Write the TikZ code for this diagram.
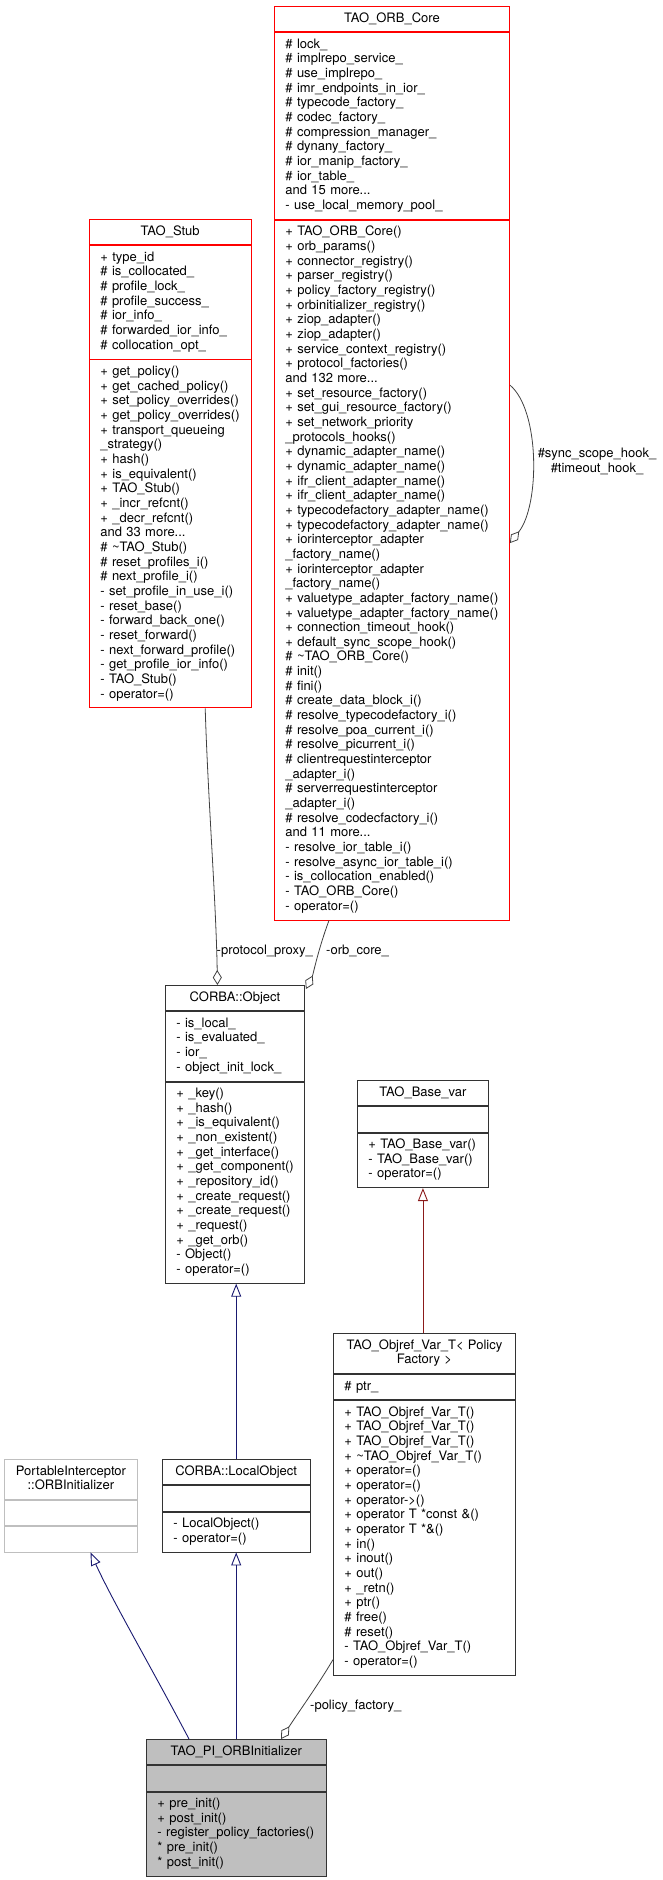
\documentclass[tikz,border=0pt]{standalone}
\usepackage{fontspec}
\setmainfont{TeX Gyre Heros}
\usetikzlibrary{arrows.meta}
\definecolor{edgeblue}{HTML}{191970}
\definecolor{edgered}{HTML}{8B1A1A}
\definecolor{edgegray}{HTML}{404040}
\definecolor{boxgray}{HTML}{BFBFBF}
\newcommand\dxfont{\fontsize{13}{14.66}\selectfont}
\newcommand\rows[1]{\begin{tabular}{@{\hspace{11pt}}l@{}}#1\end{tabular}}
\newcommand\head[1]{\begin{tabular}{@{}c@{}}#1\end{tabular}}
\begin{document}
\catcode`\_=12
\begin{tikzpicture}[x=1pt, y=-1pt,
    sec/.style={draw=black!80, line width=0.9pt, anchor=north west, inner sep=0pt,
        text width=#1pt, minimum width=#1pt, align=left, font=\dxfont},
    ttl/.style={align=center},
    nl/.style={minimum height=14.66*#1+10.7},
    inh/.style={draw=edgeblue, line width=0.9pt, -{Triangle[open, length=13pt, width=10pt]}},
    priv/.style={draw=edgered, line width=0.9pt, -{Triangle[open, length=13pt, width=10pt]}},
    agg/.style={draw=edgegray, line width=0.8pt, -{Diamond[open, length=15pt, width=9pt]}},
    lbl/.style={font=\dxfont, inner sep=0pt}]
    \useasboundingbox (0,0) rectangle (663,1880);

    \node[sec=235, nl=1, ttl, draw=red] (core-t) at (274,6) {\head{TAO_ORB_Core}};
    \node[sec=235, nl=12, draw=red] (core-a) at (core-t.south west) {\rows{%
        \# lock_\\ \# implrepo_service_\\ \# use_implrepo_\\ \# imr_endpoints_in_ior_\\
        \# typecode_factory_\\ \# codec_factory_\\ \# compression_manager_\\
        \# dynany_factory_\\ \# ior_manip_factory_\\ \# ior_table_\\ and 15 more...\\
        - use_local_memory_pool_}};
    \node[sec=235, nl=47, draw=red] (core-m) at (core-a.south west) {\rows{%
        + TAO_ORB_Core()\\ + orb_params()\\ + connector_registry()\\ + parser_registry()\\
        + policy_factory_registry()\\ + orbinitializer_registry()\\ + ziop_adapter()\\
        + ziop_adapter()\\ + service_context_registry()\\ + protocol_factories()\\
        and 132 more...\\ + set_resource_factory()\\ + set_gui_resource_factory()\\
        + set_network_priority\\ _protocols_hooks()\\ + dynamic_adapter_name()\\
        + dynamic_adapter_name()\\ + ifr_client_adapter_name()\\ + ifr_client_adapter_name()\\
        + typecodefactory_adapter_name()\\ + typecodefactory_adapter_name()\\
        + iorinterceptor_adapter\\ _factory_name()\\ + iorinterceptor_adapter\\
        _factory_name()\\ + valuetype_adapter_factory_name()\\
        + valuetype_adapter_factory_name()\\ + connection_timeout_hook()\\
        + default_sync_scope_hook()\\ \# \textasciitilde TAO_ORB_Core()\\ \# init()\\ \# fini()\\
        \# create_data_block_i()\\ \# resolve_typecodefactory_i()\\ \# resolve_poa_current_i()\\
        \# resolve_picurrent_i()\\ \# clientrequestinterceptor\\ _adapter_i()\\
        \# serverrequestinterceptor\\ _adapter_i()\\ \# resolve_codecfactory_i()\\
        and 11 more...\\ - resolve_ior_table_i()\\ - resolve_async_ior_table_i()\\
        - is_collocation_enabled()\\ - TAO_ORB_Core()\\ - operator=()}};

    \node[sec=161.5, nl=1, ttl, draw=red] (stub-t) at (89,219) {\head{TAO_Stub}};
    \node[sec=161.5, nl=7, draw=red] (stub-a) at (stub-t.south west) {\rows{%
        + type_id\\ \# is_collocated_\\ \# profile_lock_\\ \# profile_success_\\
        \# ior_info_\\ \# forwarded_ior_info_\\ \# collocation_opt_}};
    \node[sec=161.5, nl=23, draw=red] (stub-m) at (stub-a.south west) {\rows{%
        + get_policy()\\ + get_cached_policy()\\ + set_policy_overrides()\\
        + get_policy_overrides()\\ + transport_queueing\\ _strategy()\\ + hash()\\
        + is_equivalent()\\ + TAO_Stub()\\ + _incr_refcnt()\\ + _decr_refcnt()\\
        and 33 more...\\ \# \textasciitilde TAO_Stub()\\ \# reset_profiles_i()\\ \# next_profile_i()\\
        - set_profile_in_use_i()\\ - reset_base()\\ - forward_back_one()\\ - reset_forward()\\
        - next_forward_profile()\\ - get_profile_ior_info()\\ - TAO_Stub()\\ - operator=()}};

    \node[sec=139, nl=1, ttl] (obj-t) at (165,985) {\head{CORBA::Object}};
    \node[sec=139, nl=4] (obj-a) at (obj-t.south west) {\rows{%
        - is_local_\\ - is_evaluated_\\ - ior_\\ - object_init_lock_}};
    \node[sec=139, nl=13] (obj-m) at (obj-a.south west) {\rows{%
        + _key()\\ + _hash()\\ + _is_equivalent()\\ + _non_existent()\\ + _get_interface()\\
        + _get_component()\\ + _repository_id()\\ + _create_request()\\ + _create_request()\\
        + _request()\\ + _get_orb()\\ - Object()\\ - operator=()}};

    \node[sec=131, nl=1, ttl] (bvar-t) at (357,1080) {\head{TAO_Base_var}};
    \node[sec=131, nl=1] (bvar-a) at (bvar-t.south west) {};
    \node[sec=131, nl=3] (bvar-m) at (bvar-a.south west) {\rows{%
        + TAO_Base_var()\\ - TAO_Base_var()\\ - operator=()}};

    \node[sec=182, nl=2, ttl] (oref-t) at (333,1333) {\head{TAO_Objref_Var_T< Policy\\ Factory >}};
    \node[sec=182, nl=1] (oref-a) at (oref-t.south west) {\rows{\# ptr_}};
    \node[sec=182, nl=18] (oref-m) at (oref-a.south west) {\rows{%
        + TAO_Objref_Var_T()\\ + TAO_Objref_Var_T()\\ + TAO_Objref_Var_T()\\
        + \textasciitilde TAO_Objref_Var_T()\\ + operator=()\\ + operator=()\\ + operator->()\\
        + operator T *const \&()\\ + operator T *\&()\\ + in()\\ + inout()\\ + out()\\
        + _retn()\\ + ptr()\\ \# free()\\ \# reset()\\ - TAO_Objref_Var_T()\\ - operator=()}};

    \node[sec=133, nl=2, ttl, draw=boxgray] (pi-t) at (4,1459) {\head{PortableInterceptor\\ ::ORBInitializer}};
    \node[sec=133, nl=1, draw=boxgray] (pi-a) at (pi-t.south west) {};
    \node[sec=133, nl=1, draw=boxgray] (pi-m) at (pi-a.south west) {};

    \node[sec=147.5, nl=1, ttl] (lobj-t) at (162,1459) {\head{CORBA::LocalObject}};
    \node[sec=147.5, nl=1] (lobj-a) at (lobj-t.south west) {};
    \node[sec=147.5, nl=2] (lobj-m) at (lobj-a.south west) {\rows{%
        - LocalObject()\\ - operator=()}};

    \node[sec=179.5, nl=1, ttl, fill=boxgray] (tpi-t) at (146,1739) {\head{TAO_PI_ORBInitializer}};
    \node[sec=179.5, nl=1, fill=boxgray] (tpi-a) at (tpi-t.south west) {};
    \node[sec=179.5, nl=5, fill=boxgray] (tpi-m) at (tpi-a.south west) {\rows{%
        + pre_init()\\ + post_init()\\ - register_policy_factories()\\ {*} pre_init()\\ {*} post_init()}};

    \draw[inh] (lobj-t.north) -- (lobj-t.north |- obj-m.south);
    \draw[inh] (tpi-t.north) -- (tpi-t.north |- lobj-m.south);
    \draw[priv] (bvar-m.south |- oref-t.north) -- (bvar-m.south);
    \draw[inh] ([xshift=43pt]tpi-t.north west) .. controls (150,1665) and (112,1600) .. ([xshift=19.5pt]pi-m.south);

    \draw[agg] ([xshift=35pt]stub-m.south) .. controls (208,800) and (216,900) .. ([xshift=-17.5pt]obj-t.north);
    \draw[agg] ([xshift=55pt]core-m.south west) .. controls (318,950) and (313,975) .. ([xshift=1pt, yshift=-4pt]obj-t.north east);
    \draw[agg] ([yshift=16pt]oref-m.south west) .. controls (318,1685) and (300,1710) .. ([xshift=135pt]tpi-t.north west);
    \draw[agg] ([yshift=185pt]core-m.east) .. controls (540,410) and (540,505) .. ([yshift=27pt]core-m.east);

    \node[lbl, anchor=east] (pp-l) at (313,951) {-protocol_proxy_};
    \node[lbl, anchor=west] (oc-l) at (326,951) {-orb_core_};
    \node[lbl, anchor=west] (pf-l) at (310,1706) {-policy_factory_};
    \node[lbl, align=center] (hk-l) at (597,462) {\head{\#sync_scope_hook_\\ \#timeout_hook_}};
\end{tikzpicture}
\end{document}
